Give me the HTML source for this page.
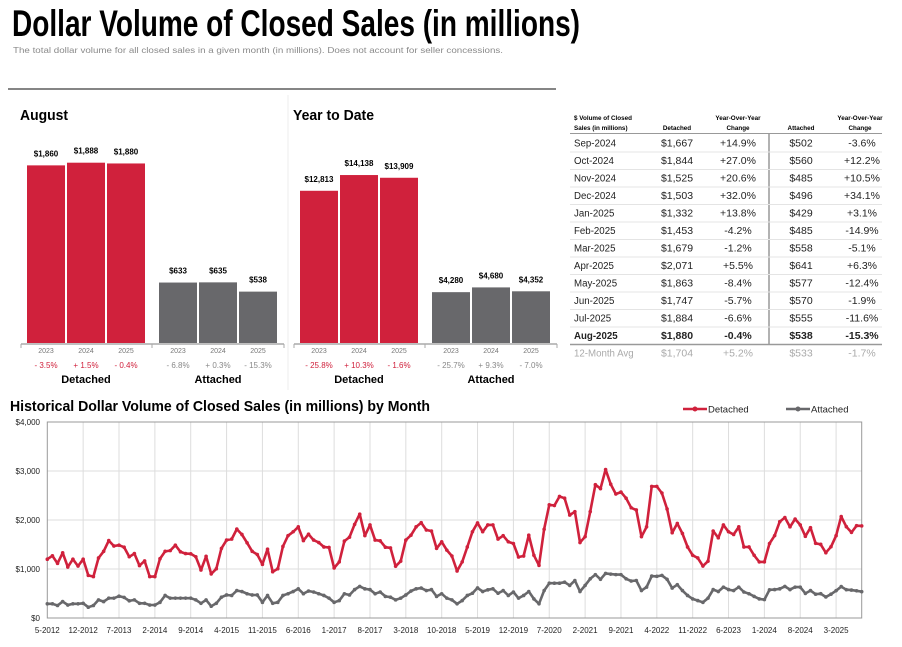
<!DOCTYPE html>
<html><head><meta charset="utf-8"><style>
html,body{margin:0;padding:0;background:#fff;}
svg{display:block;font-family:"Liberation Sans",sans-serif;}
</style></head><body>
<svg id="s" width="902" height="647" viewBox="0 0 902 647" xmlns="http://www.w3.org/2000/svg">
<text x="12" y="36" font-size="37" font-weight="bold" textLength="568" lengthAdjust="spacingAndGlyphs">Dollar Volume of Closed Sales (in millions)</text>
<text x="13" y="53" font-size="8.6" fill="#8a8a8a" textLength="490" lengthAdjust="spacingAndGlyphs">The total dollar volume for all closed sales in a given month (in millions). Does not account for seller concessions.</text>
<line x1="8" y1="89" x2="556" y2="89" stroke="#858585" stroke-width="2"/>
<line x1="288" y1="95" x2="288" y2="390" stroke="#eee" stroke-width="1"/>
<text x="20" y="120" font-size="15" font-weight="bold" textLength="48" lengthAdjust="spacingAndGlyphs">August</text>
<text x="293" y="120" font-size="15" font-weight="bold" textLength="81" lengthAdjust="spacingAndGlyphs">Year to Date</text>
<g id="bars"></g>
<g id="table"></g>
<text x="10" y="411" font-size="15" font-weight="bold" textLength="420" lengthAdjust="spacingAndGlyphs">Historical Dollar Volume of Closed Sales (in millions) by Month</text>
<g id="legend"></g>
<g id="line"></g>
</svg>
<script>
// ===== Bar chart data =====
const augYears = ["2023","2024","2025"];
const augDetached = [1860, 1888, 1880];
const augAttached = [633, 635, 538];
const augDetChg = ["- 3.5%","+ 1.5%","- 0.4%"];
const augAttChg = ["- 6.8%","+ 0.3%","- 15.3%"];
const ytdDetached = [12813, 14138, 13909];
const ytdAttached = [4280, 4680, 4352];
const ytdDetChg = ["- 25.8%","+ 10.3%","- 1.6%"];
const ytdAttChg = ["- 25.7%","+ 9.3%","- 7.0%"];

// ===== Table data =====
const tblMonths = ["Sep-2024","Oct-2024","Nov-2024","Dec-2024","Jan-2025","Feb-2025","Mar-2025","Apr-2025","May-2025","Jun-2025","Jul-2025","Aug-2025","12-Month Avg"];
const tblDet = ["$1,667","$1,844","$1,525","$1,503","$1,332","$1,453","$1,679","$2,071","$1,863","$1,747","$1,884","$1,880","$1,704"];
const tblDetChg = ["+14.9%","+27.0%","+20.6%","+32.0%","+13.8%","-4.2%","-1.2%","+5.5%","-8.4%","-5.7%","-6.6%","-0.4%","+5.2%"];
const tblAtt = ["$502","$560","$485","$496","$429","$485","$558","$641","$577","$570","$555","$538","$533"];
const tblAttChg = ["-3.6%","+12.2%","+10.5%","+34.1%","+3.1%","-14.9%","-5.1%","+6.3%","-12.4%","-1.9%","-11.6%","-15.3%","-1.7%"];

// ===== Line chart data (May 2012 .. Aug 2025) =====
const lineTickLabels = ["5-2012","12-2012","7-2013","2-2014","9-2014","4-2015","11-2015","6-2016","1-2017","8-2017","3-2018","10-2018","5-2019","12-2019","7-2020","2-2021","9-2021","4-2022","11-2022","6-2023","1-2024","8-2024","3-2025"];
const yTickValues = [0,1000,2000,3000,4000];
const yTickLabels = ["$0","$1,000","$2,000","$3,000","$4,000"];
const detachedSeries = [
1200,1270,1115,1330,1040,1200,1060,1200,
870,845,1225,1360,1580,1470,1485,1445,1250,1315,1070,1165,
845,845,1210,1360,1375,1485,1350,1315,1310,1250,980,1260,
900,1005,1420,1590,1610,1815,1705,1535,1360,1295,1095,1405,
945,1005,1460,1680,1760,1860,1580,1710,1590,1540,1450,1440,
1020,1145,1570,1650,1910,2120,1680,1900,1590,1575,1445,1430,
1055,1160,1590,1690,1860,1945,1795,1775,1420,1555,1385,1265,
960,1145,1450,1760,1940,1760,1900,1900,1610,1680,1555,1520,
1245,1265,1690,1280,1075,1810,2310,2295,2480,2445,2100,2170,
1540,1660,2170,2720,2640,3030,2730,2530,2570,2445,2250,2205,
1660,1860,2685,2685,2550,2225,1740,1930,1725,1450,1280,1225,
1060,1160,1775,1635,1900,1760,1705,1860,1450,1450,1280,1145,
1145,1520,1680,1965,2050,1860,2020,1900,1667,1844,1525,1503,
1332,1453,1679,2071,1863,1747,1884,1880];
const attachedSeries = [
290,290,255,335,265,290,290,300,
220,255,370,335,405,405,445,420,350,370,300,300,
265,265,320,460,405,405,405,405,405,370,300,370,
240,300,425,470,460,560,540,495,470,470,320,460,
300,320,460,495,540,595,495,550,530,495,460,405,
320,355,495,470,580,645,595,580,495,530,440,425,
370,405,470,550,595,610,560,580,440,495,405,370,
290,355,460,505,615,540,575,595,505,560,460,530,
405,460,540,390,290,560,710,710,710,730,665,765,
540,665,800,885,790,910,895,885,885,800,755,765,
560,630,855,850,870,790,610,680,560,460,390,355,
320,405,580,540,630,580,560,630,530,495,440,390,
375,575,580,595,645,580,630,630,502,560,485,496,
429,485,558,641,577,570,555,538];

const NS="http://www.w3.org/2000/svg";
function mk(tag, attrs, parent, txt){
  const e=document.createElementNS(NS,tag);
  for(const k in attrs) e.setAttribute(k,attrs[k]);
  if(txt!==undefined) e.textContent=txt;
  parent.appendChild(e); return e;
}
const RED="#d0213c", GREY="#68686b";

// ===== Bars =====
const barsG=document.getElementById('bars');
function barPanel(prefix, x0, det, att, detChg, attChg, scale, fmt){
  const base=343;
  mk('line',{x1:x0-6,y1:base+1,x2:x0+257,y2:base+1,stroke:'#aaa','stroke-width':1.5},barsG);
  [x0-6,x0+125,x0+257].forEach(tx=>mk('line',{x1:tx,y1:base+1,x2:tx,y2:base+5,stroke:'#aaa'},barsG));
  const groups=[[det,detChg,RED,0,'detached'],[att,attChg,GREY,132,'attached']];
  groups.forEach(g=>{
    g[0].forEach((v,i)=>{
      const bx=x0+g[3]+i*40, h=v*scale;
      const r=mk('rect',{x:bx,y:base-h,width:38,height:h,fill:g[2]},barsG);
      
      
      const t=mk('text',{x:bx+19,y:base-h-9,'font-size':8,'font-weight':'bold','text-anchor':'middle'},barsG,fmt(v));
      
      
      const yl=mk('text',{x:bx+19,y:353,'font-size':7,fill:'#777','text-anchor':'middle'},barsG,augYears[i]);
      
      
      const cl=mk('text',{x:bx+19,y:368,'font-size':8,fill:g[4]==='detached'?RED:'#888','text-anchor':'middle'},barsG,g[1][i]);
      
      
    });
    const gl=mk('text',{x:x0+g[3]+59,y:383,'font-size':11,'font-weight':'bold','text-anchor':'middle'},barsG,g[4]==='detached'?'Detached':'Attached');
    
    
  });
}
const money=v=>'$'+v.toLocaleString('en-US');
barPanel('august',27,augDetached,augAttached,augDetChg,augAttChg,0.0955,money);
barPanel('ytd',300,ytdDetached,ytdAttached,ytdDetChg,ytdAttChg,0.01188,money);

// ===== Table =====
const tG=document.getElementById('table');
const hdr=[[574,'start',['$ Volume of Closed','Sales (in millions)']],[677,'middle',['','Detached']],[738,'middle',['Year-Over-Year','Change']],[801,'middle',['','Attached']],[860,'middle',['Year-Over-Year','Change']]];
hdr.forEach(h=>{
  h[2].forEach((s,j)=>{ if(s){const t=mk('text',{x:h[0],y:120+j*10,'font-size':6.3,'font-weight':'bold','text-anchor':h[1]},tG,s);
    
    }});
});
mk('line',{x1:570,y1:133.5,x2:882,y2:133.5,stroke:'#999','stroke-width':1},tG);
mk('line',{x1:769,y1:134,x2:769,y2:344,stroke:'#999','stroke-width':1.5},tG);
mk('line',{x1:570,y1:344.5,x2:882,y2:344.5,stroke:'#999','stroke-width':1.5},tG);
tblMonths.forEach((m,i)=>{
  const cy=143+i*17.5+3.5;
  const last=i===11, avg=i===12;
  const col=avg?'#aaa':'#222', fw=last?'bold':'normal';
  if(i<11) mk('line',{x1:570,y1:cy+5.5,x2:882,y2:cy+5.5,stroke:'#e4e4e4','stroke-width':1},tG);
  const cells=[[574,'start',m],[677,'middle',tblDet[i]],[738,'middle',tblDetChg[i]],[801,'middle',tblAtt[i]],[862,'middle',tblAttChg[i]]];
  cells.forEach(c=>{
    const t=mk('text',{x:c[0],y:cy,'font-size':c[1]==='start'?9.7:10.5,'font-weight':fw,fill:col,'text-anchor':c[1]},tG,c[2]);
    
    
  });
});

// ===== Line chart =====
const lG=document.getElementById('line');
const X0=47.3, X1=861.7, Y0=618, Y1=422, YMAX=4000;
const xs=i=>X0+i*(X1-X0)/(detachedSeries.length-1);
const ys=v=>Y0-(v/YMAX)*(Y0-Y1);
yTickValues.forEach((v,i)=>{
  if(v>0&&v<YMAX) mk('line',{x1:X0,y1:ys(v),x2:X1,y2:ys(v),stroke:'#ddd','stroke-width':1},lG);
  const t=mk('text',{x:40,y:ys(v)+3,'font-size':8,'text-anchor':'end',fill:'#222'},lG,yTickLabels[i]);
  
  
});
lineTickLabels.forEach((s,k)=>{
  const x=xs(k*7);
  if(k>0) mk('line',{x1:x,y1:Y1,x2:x,y2:Y0,stroke:'#ddd','stroke-width':1},lG);
  const t=mk('text',{x:x,y:633,'font-size':8,'text-anchor':'middle',fill:'#222'},lG,s);
  
  
});
const fr=mk('rect',{x:X0,y:Y1,width:X1-X0,height:Y0-Y1,fill:'none',stroke:'#999','stroke-width':1},lG);


function series(data,color,name){
  const p=mk('polyline',{points:data.map((v,i)=>xs(i).toFixed(1)+','+ys(v).toFixed(1)).join(' '),fill:'none',stroke:color,'stroke-width':2.6,'stroke-linejoin':'round'},lG);
  
  
  data.forEach((v,i)=>{
    const c=mk('circle',{cx:xs(i),cy:ys(v),r:1.8,fill:color},lG);
    
    
  });
}
series(attachedSeries,GREY,'attached');
series(detachedSeries,RED,'detached');

// legend
const lgG=document.getElementById('legend');
[[683,RED,'Detached'],[786,GREY,'Attached']].forEach(l=>{
  const g=mk('g',{},lgG);
  
  
  mk('line',{x1:l[0],y1:409,x2:l[0]+24,y2:409,stroke:l[1],'stroke-width':2.6},g);
  mk('circle',{cx:l[0]+12,cy:409,r:2.5,fill:l[1]},g);
  mk('text',{x:l[0]+25,y:412.5,'font-size':9.5,fill:'#222'},g,l[2]);
});
</script>
</body></html>
